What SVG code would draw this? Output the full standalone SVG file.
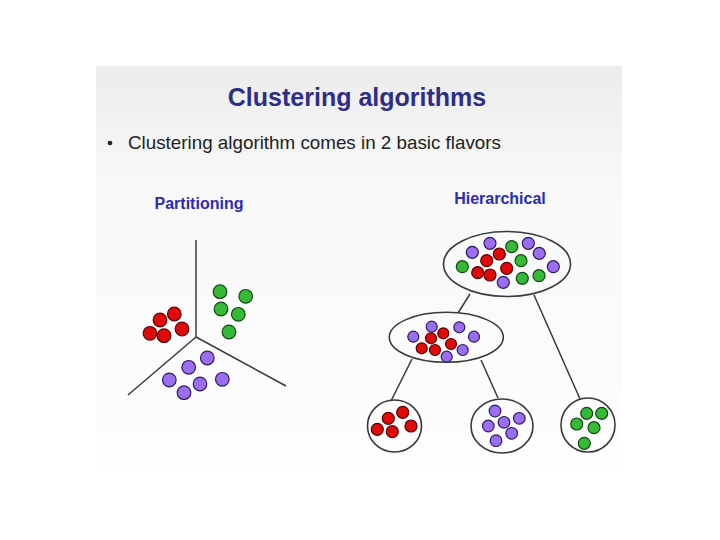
<svg xmlns="http://www.w3.org/2000/svg" width="720" height="540" viewBox="0 0 720 540">
<defs>
<linearGradient id="bg" x1="0" y1="0" x2="0" y2="1">
<stop offset="0" stop-color="#ececec"/>
<stop offset="0.28" stop-color="#f8f8f8"/>
<stop offset="1" stop-color="#fdfdfd"/>
</linearGradient>
<style>
.title{font-family:"Liberation Sans",Arial,sans-serif;font-weight:bold;font-size:25px;fill:#2e2e86}
.body{font-family:"Liberation Sans",Arial,sans-serif;font-size:19px;fill:#222}
.sub{font-family:"Liberation Sans",Arial,sans-serif;font-weight:bold;font-size:16px;fill:#2b2bb5}
.r{fill:#e00a0a;stroke:#5a0000;stroke-width:1.2}
.g{fill:#36b936;stroke:#104a10;stroke-width:1.2}
.p{fill:#9a6ef0;stroke:#2e1a5e;stroke-width:1.2}
.ln{stroke:#3a3a3a;stroke-width:1.5;fill:none}
.el{stroke:#3a3a3a;stroke-width:1.6;fill:none}
</style>
</defs>
<rect x="0" y="0" width="720" height="540" fill="#ffffff"/>
<rect x="96" y="66" width="526" height="400" fill="url(#bg)"/>
<text class="title" x="357" y="106" text-anchor="middle">Clustering algorithms</text>
<circle cx="110" cy="143" r="2.3" fill="#222"/>
<text class="body" x="128" y="149" textLength="373" lengthAdjust="spacingAndGlyphs">Clustering algorithm comes in 2 basic flavors</text>
<text class="sub" x="199" y="209" text-anchor="middle">Partitioning</text>
<text class="sub" x="500" y="204" text-anchor="middle">Hierarchical</text>

<g id="connectors">
<line class="ln" x1="196" y1="240" x2="196" y2="337"/>
<line class="ln" x1="196" y1="337" x2="128" y2="395"/>
<line class="ln" x1="196" y1="337" x2="286" y2="386"/>
<line class="ln" x1="470" y1="294" x2="458" y2="313"/>
<line class="ln" x1="534" y1="295" x2="580" y2="399"/>
<line class="ln" x1="412" y1="359" x2="391" y2="401"/>
<line class="ln" x1="481" y1="360" x2="498" y2="398"/>
</g>

<g id="part-red">
<circle class="r" cx="160" cy="320" r="6.8"/>
<circle class="r" cx="174.3" cy="314" r="6.8"/>
<circle class="r" cx="150" cy="333.3" r="6.8"/>
<circle class="r" cx="164" cy="335.7" r="6.8"/>
<circle class="r" cx="182" cy="329" r="6.8"/>
</g>
<g id="part-green">
<circle class="g" cx="220" cy="291.7" r="6.8"/>
<circle class="g" cx="245.7" cy="296.3" r="6.8"/>
<circle class="g" cx="221" cy="309" r="6.8"/>
<circle class="g" cx="238.3" cy="314.3" r="6.8"/>
<circle class="g" cx="229" cy="332" r="6.8"/>
</g>
<g id="part-purple">
<circle class="p" cx="207.3" cy="358" r="6.8"/>
<circle class="p" cx="188.7" cy="367.3" r="6.8"/>
<circle class="p" cx="169.3" cy="380" r="6.8"/>
<circle class="p" cx="200" cy="384" r="6.8"/>
<circle class="p" cx="222.3" cy="379.3" r="6.8"/>
<circle class="p" cx="184" cy="392.7" r="6.8"/>
</g>

<g id="h-top">
<ellipse class="el" cx="507" cy="264" rx="63.5" ry="32.5"/>
<circle class="p" cx="490" cy="243.3" r="6"/>
<circle class="g" cx="511.7" cy="246.7" r="6"/>
<circle class="p" cx="528.3" cy="243.3" r="6"/>
<circle class="p" cx="472.3" cy="252.3" r="6"/>
<circle class="r" cx="499.3" cy="254" r="6"/>
<circle class="p" cx="539.3" cy="253.3" r="6"/>
<circle class="r" cx="486.7" cy="260.7" r="6"/>
<circle class="g" cx="521" cy="260.7" r="6"/>
<circle class="g" cx="462.3" cy="266.7" r="6"/>
<circle class="r" cx="506.7" cy="268.3" r="6"/>
<circle class="p" cx="553.3" cy="266.7" r="6"/>
<circle class="r" cx="477.7" cy="272.7" r="6"/>
<circle class="r" cx="490" cy="275" r="6"/>
<circle class="g" cx="522.3" cy="278.3" r="6"/>
<circle class="g" cx="539" cy="275.7" r="6"/>
<circle class="p" cx="503.3" cy="282.3" r="6"/>
</g>

<g id="h-mid">
<ellipse class="el" cx="446.3" cy="337.3" rx="57" ry="25"/>
<circle class="p" cx="431.7" cy="326.7" r="5.5"/>
<circle class="p" cx="459.3" cy="327.3" r="5.5"/>
<circle class="p" cx="413.3" cy="336.7" r="5.5"/>
<circle class="r" cx="443.3" cy="333.3" r="5.5"/>
<circle class="r" cx="431" cy="338.3" r="5.5"/>
<circle class="p" cx="474" cy="336.7" r="5.5"/>
<circle class="r" cx="451" cy="344" r="5.5"/>
<circle class="r" cx="421.7" cy="348.3" r="5.5"/>
<circle class="r" cx="435" cy="350" r="5.5"/>
<circle class="p" cx="462.7" cy="350" r="5.5"/>
<circle class="p" cx="446.7" cy="356.7" r="5.5"/>
</g>

<g id="h-red">
<ellipse class="el" cx="394.5" cy="426" rx="27" ry="26"/>
<circle class="r" cx="402.7" cy="412.3" r="6"/>
<circle class="r" cx="388.3" cy="418.3" r="6"/>
<circle class="r" cx="411" cy="426" r="6"/>
<circle class="r" cx="377.3" cy="429.3" r="6"/>
<circle class="r" cx="392.3" cy="431.7" r="6"/>
</g>

<g id="h-purple">
<ellipse class="el" cx="502" cy="426" rx="31" ry="27"/>
<circle class="p" cx="495" cy="411" r="5.8"/>
<circle class="p" cx="519.3" cy="418.3" r="5.8"/>
<circle class="p" cx="504" cy="422.3" r="5.8"/>
<circle class="p" cx="488.3" cy="426" r="5.8"/>
<circle class="p" cx="511.7" cy="433.3" r="5.8"/>
<circle class="p" cx="496" cy="440.7" r="5.8"/>
</g>

<g id="h-green">
<ellipse class="el" cx="588" cy="425" rx="27" ry="27"/>
<circle class="g" cx="586.7" cy="413.3" r="6"/>
<circle class="g" cx="601.7" cy="413.3" r="6"/>
<circle class="g" cx="576.7" cy="424" r="6"/>
<circle class="g" cx="594" cy="427.7" r="6"/>
<circle class="g" cx="584.3" cy="443.3" r="6"/>
</g>
</svg>
